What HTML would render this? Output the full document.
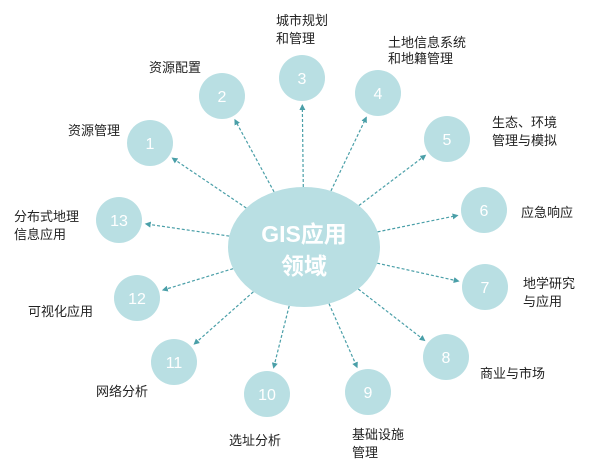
<!DOCTYPE html>
<html><head><meta charset="utf-8"><style>
html,body{margin:0;padding:0;background:#fff;width:600px;height:464px;overflow:hidden}
text{font-family:"Liberation Sans","Noto Sans CJK SC",sans-serif}
</style></head><body>
<svg id="s" width="600" height="464" xmlns="http://www.w3.org/2000/svg">
<defs><marker id="a" markerWidth="6" markerHeight="6" refX="5" refY="3" orient="auto" markerUnits="userSpaceOnUse"><path d="M0,0 L6,3 L0,6 z" fill="#4a9fa8"/></marker></defs>
<g id="lines"></g>
<ellipse cx="304" cy="247" rx="76" ry="60" fill="#b9dfe3"/>
<text x="304" y="242" text-anchor="middle" font-size="23" font-weight="bold" fill="#fff">GIS应用</text>
<text x="304" y="274" text-anchor="middle" font-size="23" font-weight="bold" fill="#fff">领域</text>
<g id="circ"></g>
<g font-size="13" fill="#222">
<text x="149" y="72">资源配置</text>
<text x="68" y="135">资源管理</text>
<text x="276" y="25">城市规划</text><text x="276" y="43">和管理</text>
<text x="388" y="47">土地信息系统</text><text x="388" y="63">和地籍管理</text>
<text x="492" y="127">生态、环境</text><text x="492" y="145">管理与模拟</text>
<text x="521" y="217">应急响应</text>
<text x="523" y="288">地学研究</text><text x="523" y="306">与应用</text>
<text x="480" y="378">商业与市场</text>
<text x="352" y="439">基础设施</text><text x="352" y="457">管理</text>
<text x="229" y="445">选址分析</text>
<text x="96" y="396">网络分析</text>
<text x="28" y="316">可视化应用</text>
<text x="14" y="221">分布式地理</text><text x="14" y="239">信息应用</text>
</g>
</svg>
<script>
var C=[[1,150,143],[2,222,96],[3,302,78],[4,378,93],[5,447,139],[6,484,210],[7,485,287],[8,446,357],[9,368,392],[10,267,394],[11,174,362],[12,137,298],[13,119,220]];
var ns="http://www.w3.org/2000/svg",L=document.getElementById("lines"),G=document.getElementById("circ");
var cx=304,cy=247,rx=76,ry=60,r=23;
C.forEach(function(c){
 var dx=c[1]-cx,dy=c[2]-cy,d=Math.sqrt(dx*dx+dy*dy),ux=dx/d,uy=dy/d;
 var t=1/Math.sqrt((ux*ux)/(rx*rx)+(uy*uy)/(ry*ry));
 var l=document.createElementNS(ns,"line");
 l.setAttribute("x1",cx+ux*t);l.setAttribute("y1",cy+uy*t);
 l.setAttribute("x2",c[1]-ux*(r+4));l.setAttribute("y2",c[2]-uy*(r+4));
 l.setAttribute("stroke","#4a9fa8");l.setAttribute("stroke-width","1.2");l.setAttribute("stroke-dasharray","3,2");
 l.setAttribute("marker-end","url(#a)");L.appendChild(l);
 var e=document.createElementNS(ns,"circle");e.setAttribute("cx",c[1]);e.setAttribute("cy",c[2]);e.setAttribute("r",r);e.setAttribute("fill","#b9dfe3");G.appendChild(e);
 var tx=document.createElementNS(ns,"text");tx.setAttribute("x",c[1]);tx.setAttribute("y",c[2]+6);tx.setAttribute("text-anchor","middle");tx.setAttribute("font-size","16");tx.setAttribute("fill","#fff");tx.textContent=c[0];G.appendChild(tx);
});
</script>
</body></html>
